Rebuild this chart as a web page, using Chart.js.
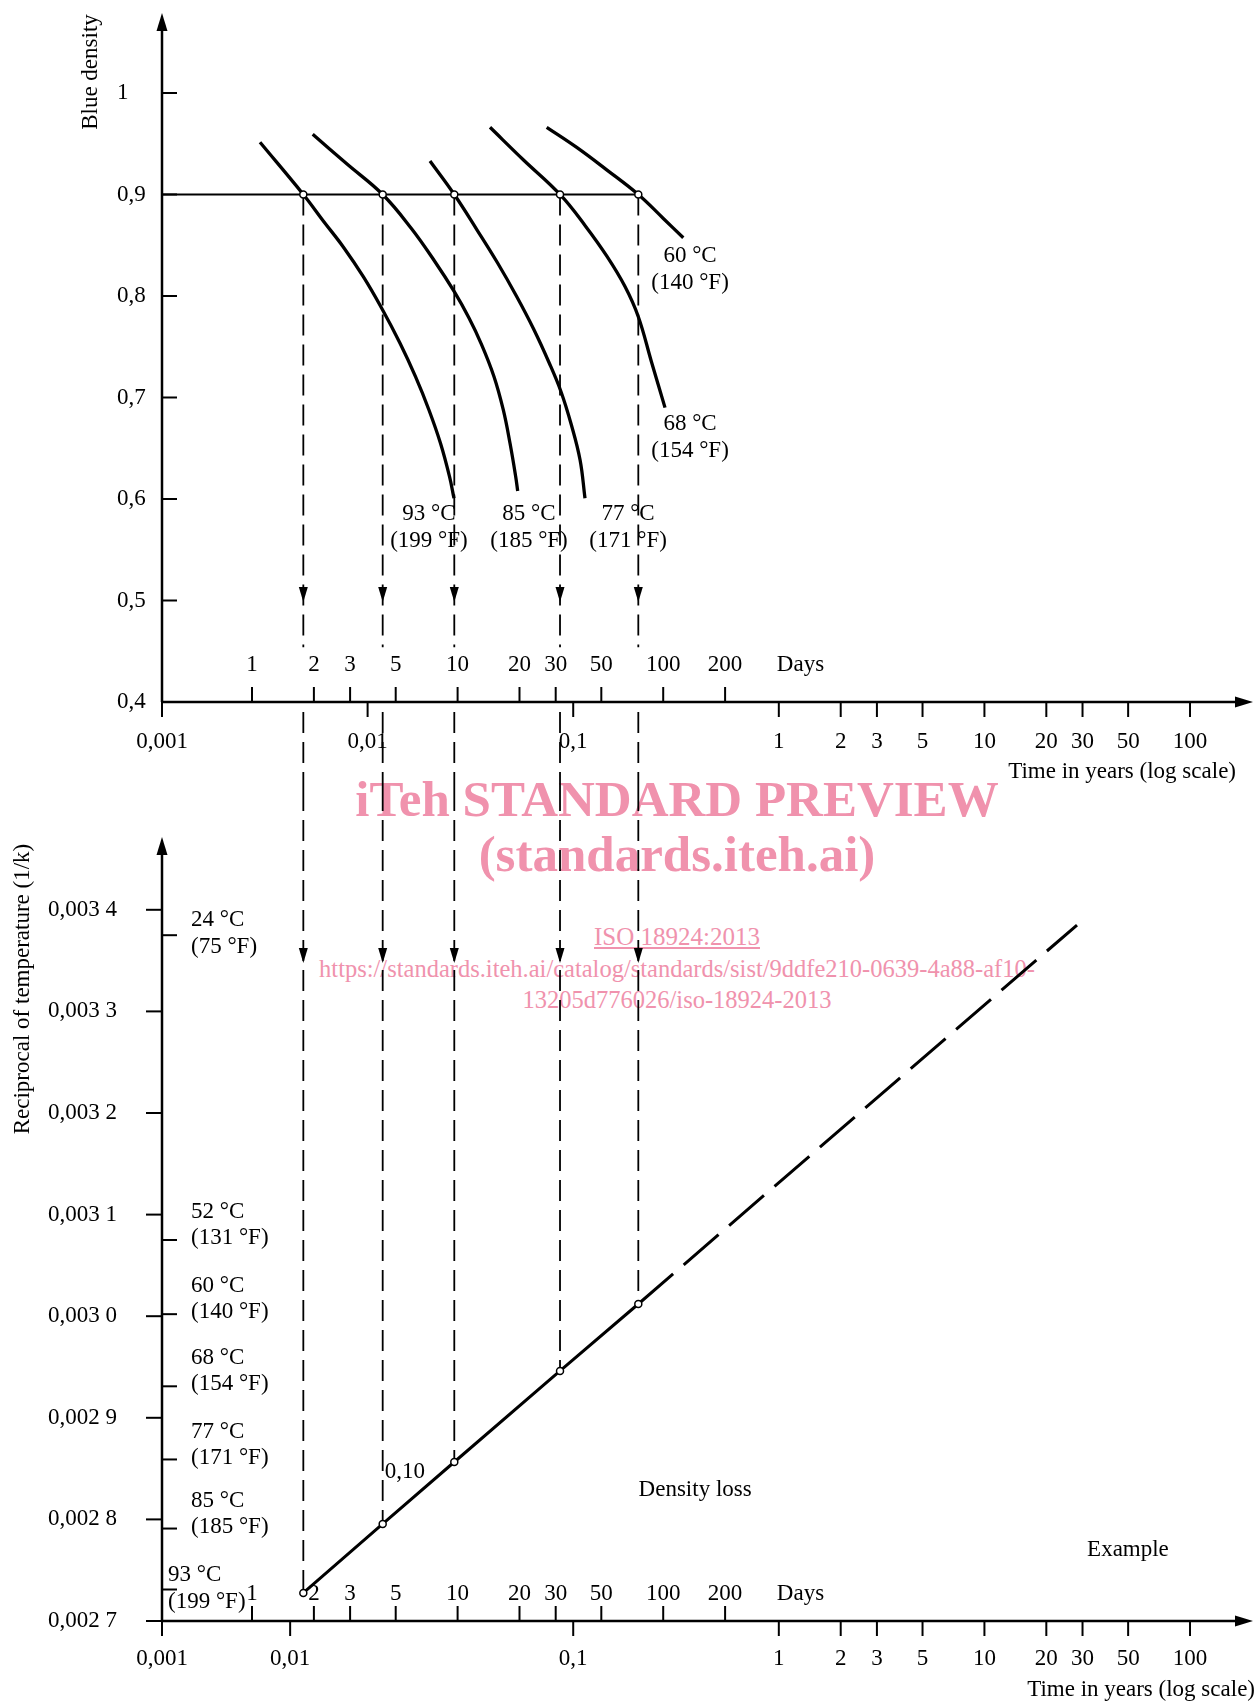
<!DOCTYPE html>
<html>
<head>
<meta charset="utf-8">
<script src="https://cdn.jsdelivr.net/npm/chart.js@4.4.1/dist/chart.umd.min.js"></script>
<style>
  html, body { margin: 0; padding: 0; background: #fff; }
  #wrap { position: relative; width: 1257px; height: 1703px; overflow: hidden; }
  canvas { position: absolute; left: 0; z-index: 2; }
  #cTop { top: 0; }
  #cBot { top: 790px; }
  .wm { position: absolute; left: 77px; width: 1200px; text-align: center; color: #f092ad;
        font-family: "Liberation Serif", "Times New Roman", serif; white-space: nowrap; z-index: 1; }
  .wm.big { font-size: 51px; line-height: 51px; font-weight: bold; }
  .wm.iso { font-size: 25px; line-height: 25px; text-decoration: underline; }
  .wm.url { font-size: 24.5px; line-height: 25px; }
</style>
</head>
<body>
<div id="wrap">
  <div class="wm big" style="top:774px">iTeh STANDARD PREVIEW</div>
  <div class="wm big" style="top:829px">(standards.iteh.ai)</div>
  <div class="wm iso" style="top:924px">ISO 18924:2013</div>
  <div class="wm url" style="top:956px">https://standards.iteh.ai/catalog/standards/sist/9ddfe210-0639-4a88-af10-</div>
  <div class="wm url" style="top:987px">13205d776026/iso-18924-2013</div>
  <canvas id="cTop" width="1257" height="790"></canvas>
  <canvas id="cBot" width="1257" height="913"></canvas>
</div>
<script>
// ---- Achsen / Ticks ----
const DAY_TICKS = [1, 2, 3, 5, 10, 20, 30, 50, 100, 200];
const YEAR_TICKS = [0.001, 0.01, 0.1, 1, 2, 3, 5, 10, 20, 30, 50, 100];
// im unteren Diagramm sitzt "0,01" in der Vorlage weiter links
const YEAR_TICKS_BOTTOM = [0.001, 0.0042, 0.1, 1, 2, 3, 5, 10, 20, 30, 50, 100];
const YEAR_LABELS = ['0,001', '0,01', '0,1', '1', '2', '3', '5', '10', '20', '30', '50', '100'];

const DENSITY_TICKS = [0.4, 0.5, 0.6, 0.7, 0.8, 0.9, 1.0];
const DENSITY_LABELS = ['0,4', '0,5', '0,6', '0,7', '0,8', '0,9', '1'];

const RECIP_TICKS = [0.0027, 0.0028, 0.0029, 0.0030, 0.0031, 0.0032, 0.0033, 0.0034];
const RECIP_LABELS = ['0,002 7', '0,002 8', '0,002 9', '0,003 0', '0,003 1', '0,003 2', '0,003 3', '0,003 4'];

const TEMP_C = ['24 °C', '52 °C', '60 °C', '68 °C', '77 °C', '85 °C', '93 °C'];
const TEMP_F = ['(75 °F)', '(131 °F)', '(140 °F)', '(154 °F)', '(171 °F)', '(185 °F)', '(199 °F)'];
const TEMP_RECIP = [0.003375, 0.003075, 0.003002, 0.002931, 0.002859, 0.002791, 0.002731];

// ---- Dichtekurven (Zeit in Jahren, Blaudichte) ----
const CURVE_C = ['93 °C', '85 °C', '77 °C', '68 °C', '60 °C'];
const CURVE_F = ['(199 °F)', '(185 °F)', '(171 °F)', '(154 °F)', '(140 °F)'];
const CURVE_93_T = [0.002997, 0.004868, 0.006088, 0.007617, 0.009530, 0.01171, 0.01438, 0.01710, 0.01988, 0.02262, 0.02503, 0.02631];
const CURVE_93_D = [0.9514, 0.9000, 0.8739, 0.8483, 0.8190, 0.7879, 0.7534, 0.7205, 0.6877, 0.6549, 0.6220, 0.6007];
const CURVE_85_T = [0.005408, 0.007941, 0.01184, 0.01626, 0.02115, 0.02640, 0.03113, 0.03561, 0.04120, 0.04571, 0.04928, 0.05252, 0.05370];
const CURVE_85_D = [0.9593, 0.9300, 0.9000, 0.8670, 0.8345, 0.8042, 0.7783, 0.7534, 0.7205, 0.6877, 0.6549, 0.6220, 0.6079];
const CURVE_77_T = [0.02011, 0.02640, 0.03409, 0.04289, 0.05293, 0.06418, 0.07608, 0.08724, 0.09799, 0.1080, 0.1141];
const CURVE_77_D = [0.9330, 0.9000, 0.8650, 0.8325, 0.8000, 0.7675, 0.7350, 0.7057, 0.6729, 0.6384, 0.6007];
const CURVE_68_T = [0.03938, 0.05732, 0.08626, 0.1148, 0.1460, 0.1786, 0.2073, 0.2403, 0.2796];
const CURVE_68_D = [0.9662, 0.9340, 0.9000, 0.8688, 0.8390, 0.8093, 0.7796, 0.7350, 0.6900];
const CURVE_60_T = [0.07432, 0.1040, 0.1455, 0.2073, 0.2743, 0.3431];
const CURVE_60_D = [0.9662, 0.9464, 0.9243, 0.9000, 0.8764, 0.8574];
// Lage der Kurvenbeschriftung
const CURVE_NOTE_T = [0.01988, 0.06095, 0.1848, 0.370, 0.370];
const CURVE_NOTE_D = [0.5852, 0.5852, 0.5852, 0.6739, 0.8394];

// ---- Schnittpunkte bei Dichte 0,9 ----
const CROSS_LEVEL = 0.9;
const CROSS_T = [0.004868, 0.01184, 0.0264, 0.08626, 0.2073];

// ---- Arrhenius-Gerade (unten) ----
const LINE_R = [0.0027276, 0.0027955, 0.0028565, 0.0029461, 0.0030120];
const EXTRAP_T = [0.2073, 28.2];
const EXTRAP_R = [0.0030120, 0.003385];

const FONT = '23px "Liberation Serif", "Times New Roman", serif';

const pts = (ts, vs) => ts.map((t, i) => ({ x: t, y: vs[i] }));

function seg(ctx, x1, y1, x2, y2) {
  ctx.beginPath();
  ctx.moveTo(x1, y1);
  ctx.lineTo(x2, y2);
  ctx.stroke();
}

// gefuelltes Dreieck, Spitze bei (tx,ty), Richtung (dx,dy)
function tri(ctx, tx, ty, dx, dy, len, half) {
  const bx = tx - dx * len, by = ty - dy * len;
  ctx.beginPath();
  ctx.moveTo(tx, ty);
  ctx.lineTo(bx - dy * half, by + dx * half);
  ctx.lineTo(bx + dy * half, by - dx * half);
  ctx.closePath();
  ctx.fill();
}

function drawTimeAxis(chart, yearTicks, g) {
  const { ctx, chartArea: a } = chart;
  const x = chart.scales.x, xd = chart.scales.xd;
  const y0 = a.bottom;
  ctx.save();
  ctx.strokeStyle = '#000';
  ctx.fillStyle = '#000';
  ctx.lineWidth = 2.5;
  seg(ctx, a.left, y0, a.right + 4, y0);
  tri(ctx, a.right + 13, y0, 1, 0, 18, 5.5);
  ctx.lineWidth = 2;
  ctx.font = FONT;
  ctx.textAlign = 'center';
  ctx.textBaseline = 'middle';
  DAY_TICKS.forEach(d => {
    const px = xd.getPixelForValue(d);
    seg(ctx, px, y0, px, y0 - 15);
    ctx.fillText(String(d), px, y0 - g.day);
  });
  yearTicks.forEach((t, i) => {
    const px = x.getPixelForValue(t);
    seg(ctx, px, y0, px, y0 + 15);
    ctx.fillText(YEAR_LABELS[i], px, y0 + g.year);
  });
  ctx.textAlign = 'left';
  ctx.fillText('Days', xd.getPixelForValue(365) - 2, y0 - g.day);
  ctx.textAlign = 'right';
  ctx.fillText('Time in years (log scale)', g.titleRight, y0 + g.title);
  ctx.restore();
}

function drawYAxis(ctx, a) {
  ctx.lineWidth = 2.5;
  seg(ctx, a.left, a.bottom, a.left, a.top + 10);
  tri(ctx, a.left, a.top, 0, -1, 18, 5.5);
}

function rotText(ctx, text, cx, cy) {
  ctx.save();
  ctx.translate(cx, cy);
  ctx.rotate(-Math.PI / 2);
  ctx.textAlign = 'center';
  ctx.textBaseline = 'middle';
  ctx.fillText(text, 0, 0);
  ctx.restore();
}

const topDecor = {
  id: 'topDecor',
  beforeDatasetsDraw(chart) {
    const { ctx, chartArea: a } = chart;
    const x = chart.scales.x, y = chart.scales.y;
    ctx.save();
    ctx.strokeStyle = '#000';
    ctx.fillStyle = '#000';
    drawYAxis(ctx, a);
    ctx.lineWidth = 2;
    ctx.font = FONT;
    ctx.textBaseline = 'middle';
    ctx.textAlign = 'left';
    DENSITY_TICKS.forEach((v, i) => {
      const py = y.getPixelForValue(v);
      seg(ctx, a.left, py, a.left + 15, py);
      ctx.fillText(DENSITY_LABELS[i], 117, py);
    });
    rotText(ctx, 'Blue density', 91, 72);

    // senkrechte Hilfslinien nach unten
    ctx.lineWidth = 1.8;
    ctx.setLineDash([21, 9]);
    CROSS_T.forEach(t => {
      const px = x.getPixelForValue(t);
      seg(ctx, px, y.getPixelForValue(CROSS_LEVEL), px, y.getPixelForValue(0.454));
      seg(ctx, px, a.bottom + 10, px, chart.height);
    });
    ctx.setLineDash([]);
    CROSS_T.forEach(t => tri(ctx, x.getPixelForValue(t), y.getPixelForValue(0.4985), 0, 1, 15, 4.5));

    ctx.textAlign = 'center';
    CURVE_C.forEach((lab, i) => {
      const px = x.getPixelForValue(CURVE_NOTE_T[i]);
      const py = y.getPixelForValue(CURVE_NOTE_D[i]);
      ctx.fillText(lab, px, py);
      ctx.fillText(CURVE_F[i], px, py + 27);
    });
    ctx.restore();
    drawTimeAxis(chart, YEAR_TICKS, { day: 37, year: 40, title: 70, titleRight: 1236 });
  },
};

const botDecor = {
  id: 'botDecor',
  beforeDatasetsDraw(chart) {
    const { ctx, chartArea: a } = chart;
    const x = chart.scales.x, y = chart.scales.y;
    ctx.save();
    ctx.strokeStyle = '#000';
    ctx.fillStyle = '#000';
    drawYAxis(ctx, a);
    ctx.lineWidth = 2;
    ctx.font = FONT;
    ctx.textBaseline = 'middle';
    ctx.textAlign = 'left';
    RECIP_TICKS.forEach((v, i) => {
      const py = y.getPixelForValue(v);
      seg(ctx, a.left - 16, py, a.left, py);
      ctx.fillText(RECIP_LABELS[i], 48, py);
    });
    TEMP_RECIP.forEach((v, i) => {
      const py = y.getPixelForValue(v);
      seg(ctx, a.left, py, a.left + 15, py);
      const edge = (i === 0 || i === TEMP_RECIP.length - 1);
      const lx = i === TEMP_RECIP.length - 1 ? 168 : 191;
      ctx.fillText(TEMP_C[i], lx, py + (edge ? -15 : -28));
      ctx.fillText(TEMP_F[i], lx, py + (edge ? 12 : -2));
    });
    rotText(ctx, 'Reciprocal of temperature (1/k)', 23, 199);

    // Fortsetzung der Hilfslinien bis zur Geraden
    ctx.lineWidth = 1.8;
    ctx.setLineDash([21, 9]);
    CROSS_T.forEach((t, i) => {
      const px = x.getPixelForValue(t);
      seg(ctx, px, 0, px, y.getPixelForValue(LINE_R[i]));
    });
    ctx.setLineDash([]);
    CROSS_T.forEach(t => tri(ctx, x.getPixelForValue(t), y.getPixelForValue(0.0033476), 0, 1, 15, 4.5));

    ctx.textAlign = 'center';
    ctx.fillText('0,10', x.getPixelForValue(0.0152), y.getPixelForValue(0.0028467));
    ctx.fillText('Density loss', x.getPixelForValue(0.3917), y.getPixelForValue(0.0028289));
    ctx.fillText('Example', x.getPixelForValue(49.9), y.getPixelForValue(0.0027699));
    ctx.restore();
    drawTimeAxis(chart, YEAR_TICKS_BOTTOM, { day: 27, year: 38, title: 69, titleRight: 1255 });
  },
};

function baseOptions(yMin, yMax, padding) {
  return {
    responsive: false,
    animation: false,
    events: [],
    layout: { padding },
    plugins: { legend: { display: false }, tooltip: { enabled: false } },
    scales: {
      x: { type: 'logarithmic', min: 0.001, max: 175, bounds: 'data', display: false },
      xd: { type: 'logarithmic', axis: 'x', min: 0.365, max: 63875, bounds: 'data', display: false },
      y: { type: 'linear', min: yMin, max: yMax, bounds: 'data', display: false },
    },
  };
}

const curveStyle = {
  showLine: true, pointRadius: 0, borderColor: '#000', borderWidth: 3.3,
  tension: 0.4, order: 1,
};
const straightStyle = {
  showLine: true, pointRadius: 0, borderColor: '#000', borderWidth: 3,
  tension: 0, order: 1,
};
const markerStyle = {
  showLine: false, pointRadius: 3.5, pointBackgroundColor: '#fff',
  pointBorderColor: '#000', pointBorderWidth: 1.5, order: 0,
};

new Chart(document.getElementById('cTop'), {
  type: 'scatter',
  data: {
    datasets: [
      { ...markerStyle, data: CROSS_T.map(t => ({ x: t, y: CROSS_LEVEL })) },
      { ...straightStyle, borderWidth: 2,
        data: [{ x: 0.001, y: CROSS_LEVEL }, { x: CROSS_T[4], y: CROSS_LEVEL }] },
      { ...curveStyle, data: pts(CURVE_93_T, CURVE_93_D) },
      { ...curveStyle, data: pts(CURVE_85_T, CURVE_85_D) },
      { ...curveStyle, data: pts(CURVE_77_T, CURVE_77_D) },
      { ...curveStyle, data: pts(CURVE_68_T, CURVE_68_D) },
      { ...curveStyle, data: pts(CURVE_60_T, CURVE_60_D) },
    ],
  },
  options: baseOptions(0.4, 1.0788, { left: 162, right: 17, top: 13, bottom: 88 }),
  plugins: [topDecor],
});

new Chart(document.getElementById('cBot'), {
  type: 'scatter',
  data: {
    datasets: [
      { ...markerStyle, data: pts(CROSS_T, LINE_R) },
      { ...straightStyle, data: pts(CROSS_T, LINE_R) },
      { ...straightStyle, borderDash: [46, 14], data: pts(EXTRAP_T, EXTRAP_R) },
    ],
  },
  options: baseOptions(0.0027, 0.00347165, { left: 162, right: 17, top: 47, bottom: 82 }),
  plugins: [botDecor],
});
</script>
</body>
</html>
